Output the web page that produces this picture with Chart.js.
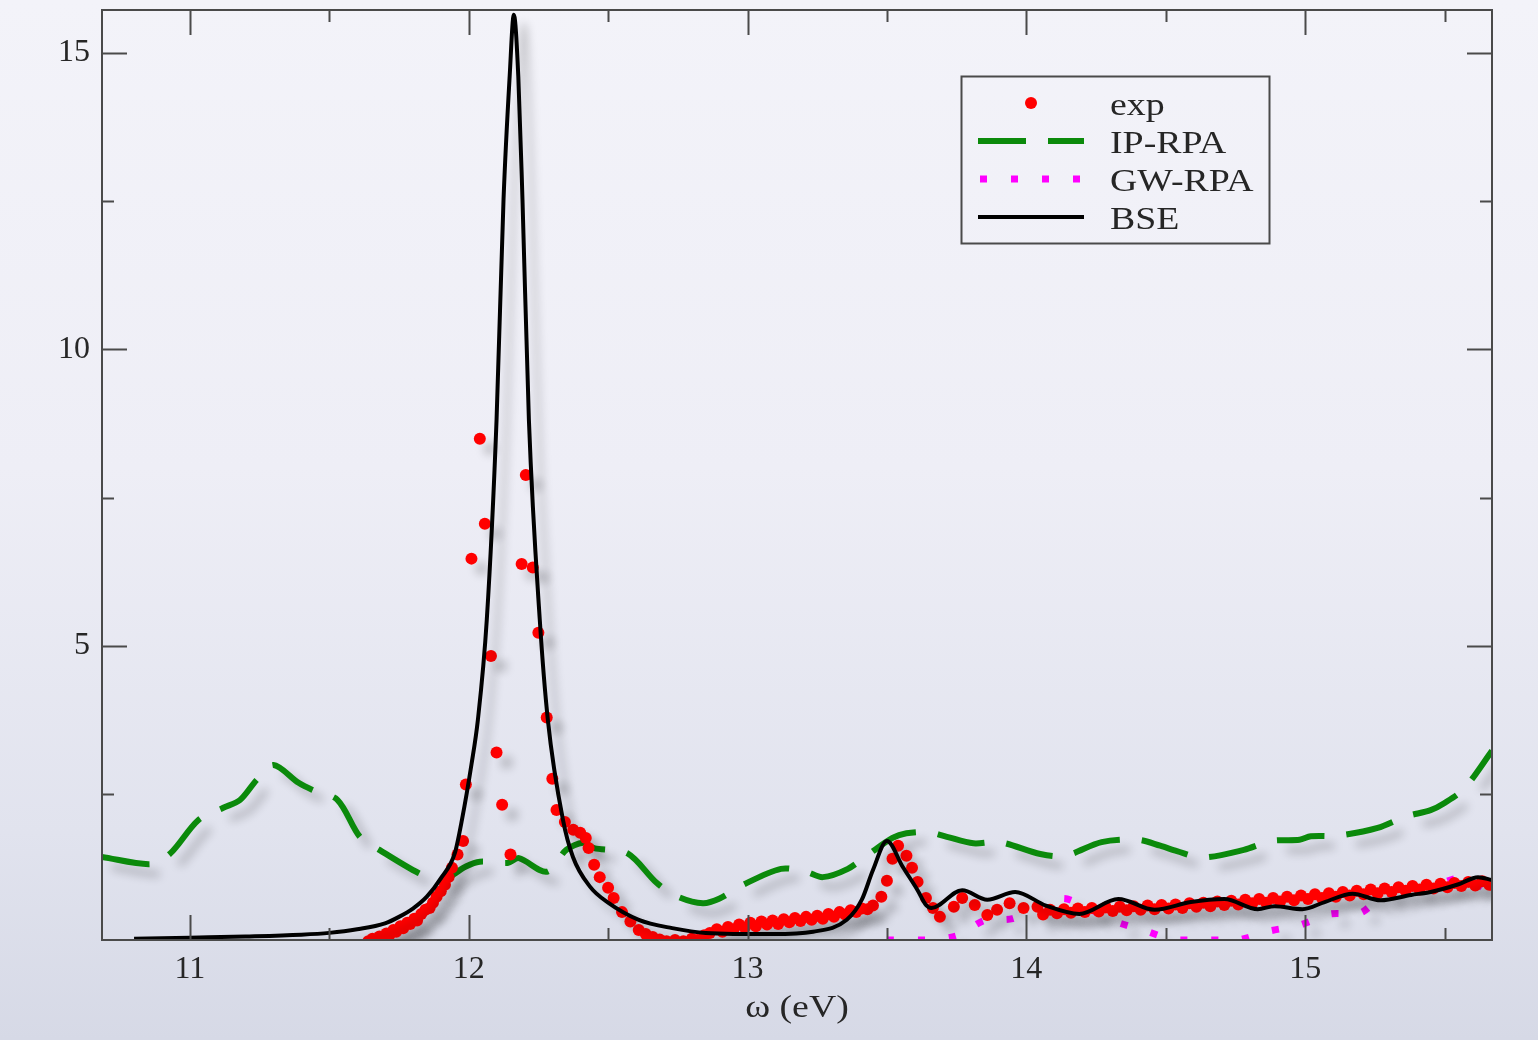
<!DOCTYPE html>
<html>
<head>
<meta charset="utf-8">
<script src="https://cdn.jsdelivr.net/npm/chart.js@4.4.1/dist/chart.umd.min.js"></script>
<style>
  html, body { margin: 0; padding: 0; }
  body {
    width: 1538px;
    height: 1040px;
    overflow: hidden;
    background: linear-gradient(180deg, #f3f3f9 0%, #eeeef6 45%, #e1e3ee 80%, #d6d9e6 100%);
  }
  canvas { display: block; }
</style>
</head>
<body>
<canvas id="spectrum" width="1538" height="1040"></canvas>
<script>
// axis ranges and ticks
const X_MIN = 10.685;
const X_MAX = 15.67;
const Y_MIN = 0.04;
const Y_MAX = 15.72;
const xMajorTicks = [11, 12, 13, 14, 15];
const xMinorTicks = [11.5, 12.5, 13.5, 14.5, 15.5];
const yMajorTicks = [5, 10, 15];
const yMinorTicks = [2.5, 7.5, 12.5];
const xTitle = 'ω (eV)';

// exp (red dots)
const expE = [
  11.640, 11.655, 11.665, 11.680, 11.690, 11.705, 11.715, 11.730, 11.740, 11.755,
  11.765, 11.780, 11.790, 11.805, 11.815, 11.830, 11.845, 11.860, 11.872, 11.885,
  11.900, 11.915, 11.928, 11.940, 11.960, 11.980, 11.990, 12.010, 12.040, 12.058,
  12.080, 12.100, 12.120, 12.150, 12.190, 12.205, 12.230, 12.250, 12.280, 12.300,
  12.315, 12.345, 12.375, 12.400, 12.420, 12.430, 12.450, 12.470, 12.500, 12.520,
  12.550, 12.580, 12.610, 12.635, 12.660, 12.685, 12.710, 12.740, 12.770, 12.800,
  12.820, 12.845, 12.865, 12.890, 12.910, 12.930, 12.950, 12.970, 12.990, 13.010,
  13.030, 13.050, 13.070, 13.090, 13.110, 13.130, 13.150, 13.170, 13.190, 13.210,
  13.230, 13.250, 13.270, 13.290, 13.310, 13.330, 13.350, 13.370, 13.390, 13.410,
  13.430, 13.450, 13.480, 13.500, 13.520, 13.540, 13.570, 13.590, 13.610, 13.640,
  13.665, 13.690, 13.740, 13.770, 13.815, 13.860, 13.895, 13.940, 13.990, 14.040,
  14.060, 14.085, 14.110, 14.135, 14.160, 14.185, 14.210, 14.235, 14.260, 14.285,
  14.310, 14.335, 14.360, 14.385, 14.410, 14.435, 14.460, 14.485, 14.510, 14.535,
  14.560, 14.585, 14.610, 14.635, 14.660, 14.685, 14.710, 14.735, 14.760, 14.785,
  14.810, 14.835, 14.860, 14.885, 14.910, 14.935, 14.960, 14.985, 15.010, 15.035,
  15.060, 15.085, 15.110, 15.135, 15.160, 15.185, 15.210, 15.235, 15.260, 15.285,
  15.310, 15.335, 15.360, 15.385, 15.410, 15.435, 15.460, 15.485, 15.510, 15.535,
  15.560, 15.585, 15.610, 15.635, 15.660,
];
const expEps = [
  0.02, 0.06, 0.03, 0.10, 0.08, 0.15, 0.12, 0.21, 0.18, 0.27,
  0.24, 0.33, 0.31, 0.40, 0.37, 0.48, 0.55, 0.58, 0.67, 0.77,
  0.86, 0.97, 1.10, 1.26, 1.48, 1.71, 2.66, 6.47, 8.49, 7.06,
  4.83, 3.20, 2.32, 1.48, 6.38, 7.88, 6.32, 5.22, 3.79, 2.76,
  2.23, 2.03, 1.90, 1.85, 1.76, 1.59, 1.31, 1.10, 0.92, 0.75,
  0.51, 0.35, 0.21, 0.14, 0.09, 0.05, 0.02, 0.04, 0.02, 0.06,
  0.04, 0.12, 0.16, 0.22, 0.18, 0.26, 0.22, 0.30, 0.25, 0.33,
  0.27, 0.35, 0.30, 0.37, 0.31, 0.39, 0.34, 0.41, 0.36, 0.43,
  0.38, 0.45, 0.40, 0.48, 0.43, 0.51, 0.47, 0.54, 0.51, 0.57,
  0.56, 0.62, 0.77, 1.04, 1.41, 1.63, 1.46, 1.26, 1.02, 0.75,
  0.58, 0.43, 0.60, 0.75, 0.63, 0.46, 0.55, 0.66, 0.58, 0.60,
  0.47, 0.55, 0.49, 0.56, 0.50, 0.57, 0.51, 0.58, 0.52, 0.59,
  0.53, 0.60, 0.54, 0.61, 0.55, 0.62, 0.56, 0.63, 0.57, 0.64,
  0.58, 0.66, 0.60, 0.67, 0.61, 0.69, 0.63, 0.70, 0.64, 0.72,
  0.66, 0.73, 0.67, 0.75, 0.69, 0.77, 0.71, 0.79, 0.73, 0.81,
  0.75, 0.83, 0.77, 0.85, 0.79, 0.87, 0.81, 0.89, 0.83, 0.91,
  0.85, 0.93, 0.87, 0.95, 0.89, 0.97, 0.91, 0.99, 0.93, 1.00,
  0.95, 1.02, 0.96, 1.03, 0.97,
];

// IP-RPA (green dashed)
const ipE = [
  10.685, 10.86, 10.93, 11.03, 11.12, 11.18, 11.24, 11.30, 11.39, 11.44,
  11.53, 11.61, 11.68, 11.82, 11.90, 11.99, 12.04, 12.14, 12.18, 12.28,
  12.35, 12.41, 12.45, 12.57, 12.675, 12.75, 12.84, 12.90, 12.98, 13.12,
  13.21, 13.27, 13.36, 13.43, 13.52, 13.57, 13.65, 13.715, 13.81, 13.905,
  14.05, 14.14, 14.27, 14.40, 14.48, 14.54, 14.63, 14.78, 14.88, 14.98,
  15.02, 15.12, 15.26, 15.36, 15.45, 15.50, 15.57, 15.67,
];
const ipEps = [
  1.44, 1.32, 1.50, 2.06, 2.27, 2.40, 2.74, 2.99, 2.69, 2.57,
  2.40, 1.78, 1.56, 1.17, 1.04, 1.28, 1.36, 1.34, 1.42, 1.19,
  1.56, 1.68, 1.59, 1.50, 1.00, 0.77, 0.66, 0.74, 0.96, 1.24,
  1.19, 1.10, 1.24, 1.47, 1.76, 1.84, 1.86, 1.78, 1.67, 1.69,
  1.49, 1.46, 1.69, 1.73, 1.63, 1.54, 1.43, 1.56, 1.71, 1.73,
  1.79, 1.80, 1.93, 2.12, 2.23, 2.35, 2.59, 3.23,
];

// GW-RPA (magenta dotted)
const gwE = [
  13.50, 13.64, 13.75, 13.85, 13.95, 14.13, 14.22, 14.32, 14.43, 14.53,
  14.65, 14.76, 14.87, 14.98, 15.09, 15.20, 15.28, 15.37, 15.47, 15.57,
  15.66,
];
const gwEps = [
  0.04, 0.04, 0.11, 0.37, 0.40, 0.74, 0.58, 0.35, 0.19, 0.04,
  0.04, 0.04, 0.19, 0.29, 0.48, 0.50, 0.80, 0.89, 0.97, 1.10,
  0.85,
];

// BSE (black solid)
const bseE = [
  10.80, 11.00, 11.20, 11.40, 11.50, 11.60, 11.70, 11.75, 11.80, 11.85,
  11.90, 11.95, 11.976, 12.01, 12.033, 12.065, 12.10, 12.125, 12.147, 12.162,
  12.178, 12.193, 12.216, 12.255, 12.284, 12.338, 12.374, 12.435, 12.50, 12.61,
  12.73, 12.85, 13.09, 13.235, 13.356, 13.41, 13.45, 13.50, 13.557, 13.61,
  13.64, 13.66, 13.77, 13.86, 13.96, 14.07, 14.19, 14.33, 14.46, 14.59,
  14.71, 14.83, 14.89, 14.99, 15.07, 15.17, 15.27, 15.38, 15.45, 15.55,
  15.62, 15.67,
];
const bseEps = [
  0.06, 0.08, 0.10, 0.13, 0.16, 0.22, 0.32, 0.43, 0.57, 0.77,
  1.08, 1.50, 2.07, 3.00, 3.75, 5.44, 8.81, 12.52, 14.60, 15.64,
  14.60, 12.52, 8.81, 5.44, 3.75, 2.07, 1.44, 0.94, 0.67, 0.38,
  0.24, 0.16, 0.14, 0.18, 0.38, 0.72, 1.22, 1.71, 1.27, 0.88,
  0.63, 0.58, 0.88, 0.72, 0.85, 0.62, 0.48, 0.73, 0.55, 0.68,
  0.73, 0.56, 0.61, 0.56, 0.68, 0.82, 0.71, 0.80, 0.85, 0.98,
  1.10, 1.05,
];

const SERIF = "'Liberation Serif', 'DejaVu Serif', serif";
const TEXT_COLOR = '#262626';
const FRAME_COLOR = '#4a4a4a';
// the original lettering is slightly wider than Liberation Serif
const TEXT_STRETCH = 1.22;

function toPoints(xs, ys) {
  return xs.map((x, i) => ({ x, y: ys[i] }));
}

function wideText(ctx, text, x, y, align) {
  ctx.save();
  ctx.translate(x, y);
  ctx.scale(TEXT_STRETCH, 1);
  ctx.textAlign = align;
  ctx.fillText(text, 0, 0);
  ctx.restore();
}

// soft drop shadow under the curves, as in the original figure
const shadowPlugin = {
  id: 'curveShadow',
  beforeDatasetDraw(chart) {
    const ctx = chart.ctx;
    ctx.save();
    ctx.shadowColor = 'rgba(0,0,0,0.22)';
    ctx.shadowBlur = 10;
    ctx.shadowOffsetX = 10;
    ctx.shadowOffsetY = 10;
  },
  afterDatasetDraw(chart) {
    chart.ctx.restore();
  },
};

// frame with inward ticks on all four sides, plus the x title
const framePlugin = {
  id: 'frameTicks',
  afterDatasetsDraw(chart) {
    const { ctx, chartArea: a, scales } = chart;
    const xs = scales.x;
    const ys = scales.y;
    ctx.save();
    ctx.strokeStyle = FRAME_COLOR;
    ctx.lineWidth = 2;
    ctx.strokeRect(a.left, a.top, a.right - a.left, a.bottom - a.top);
    ctx.beginPath();
    const tickX = (v, len) => {
      const px = Math.round(xs.getPixelForValue(v)) + 0.5;
      ctx.moveTo(px, a.bottom);
      ctx.lineTo(px, a.bottom - len);
      ctx.moveTo(px, a.top);
      ctx.lineTo(px, a.top + len);
    };
    const tickY = (v, len) => {
      const py = Math.round(ys.getPixelForValue(v)) + 0.5;
      ctx.moveTo(a.left, py);
      ctx.lineTo(a.left + len, py);
      ctx.moveTo(a.right, py);
      ctx.lineTo(a.right - len, py);
    };
    xMajorTicks.forEach((v) => tickX(v, 25));
    xMinorTicks.forEach((v) => tickX(v, 12));
    yMajorTicks.forEach((v) => tickY(v, 25));
    yMinorTicks.forEach((v) => tickY(v, 12));
    ctx.stroke();

    ctx.fillStyle = TEXT_COLOR;
    ctx.font = `31px ${SERIF}`;
    ctx.textBaseline = 'alphabetic';
    wideText(ctx, xTitle, (a.left + a.right) / 2, 1017, 'center');
    ctx.restore();
  },
};

// boxed legend in the upper right, drawn from the dataset styles
const legendPlugin = {
  id: 'boxLegend',
  afterDraw(chart) {
    const ctx = chart.ctx;
    const box = { x: 961.5, y: 76.5, w: 308, h: 167 };
    const rows = [103, 141, 179, 217];
    const x0 = 978;
    const x1 = 1084;
    ctx.save();
    ctx.strokeStyle = FRAME_COLOR;
    ctx.lineWidth = 2;
    ctx.strokeRect(box.x, box.y, box.w, box.h);
    chart.data.datasets.forEach((ds, i) => {
      const y = rows[i];
      if (ds.showLine === false) {
        ctx.fillStyle = ds.backgroundColor;
        ctx.beginPath();
        ctx.arc((x0 + x1) / 2, y, ds.pointRadius, 0, Math.PI * 2);
        ctx.fill();
      } else {
        ctx.strokeStyle = ds.borderColor;
        ctx.lineWidth = ds.borderWidth;
        ctx.setLineDash(ds.borderDash || []);
        ctx.lineDashOffset = ds.legendDashOffset || 0;
        ctx.beginPath();
        ctx.moveTo(x0, y);
        ctx.lineTo(x1, y);
        ctx.stroke();
        ctx.setLineDash([]);
      }
      ctx.fillStyle = TEXT_COLOR;
      ctx.font = `31px ${SERIF}`;
      ctx.textBaseline = 'alphabetic';
      wideText(ctx, ds.label, 1110, y + 12, 'left');
    });
    ctx.restore();
  },
};

function buildChart() {
  const ctx = document.getElementById('spectrum').getContext('2d');
  return new Chart(ctx, {
    type: 'scatter',
    data: {
      datasets: [
        {
          label: 'exp',
          data: toPoints(expE, expEps),
          showLine: false,
          pointRadius: 6,
          pointHoverRadius: 6,
          pointBorderWidth: 0,
          backgroundColor: '#ff0000',
          borderColor: '#ff0000',
          order: 1,
          clip: 0,
        },
        {
          label: 'IP-RPA',
          data: toPoints(ipE, ipEps),
          showLine: true,
          pointRadius: 0,
          borderColor: '#0b8a0b',
          borderWidth: 6,
          borderDash: [48, 22],
          tension: 0.3,
          order: 3,
          clip: 0,
        },
        {
          label: 'GW-RPA',
          data: toPoints(gwE, gwEps),
          showLine: true,
          pointRadius: 0,
          borderColor: '#ff00ff',
          borderWidth: 7,
          borderDash: [7, 24],
          legendDashOffset: -2,
          tension: 0.25,
          order: 2,
          clip: 0,
        },
        {
          label: 'BSE',
          data: toPoints(bseE, bseEps),
          showLine: true,
          pointRadius: 0,
          borderColor: '#000000',
          borderWidth: 4,
          cubicInterpolationMode: 'monotone',
          order: 0,
          clip: 0,
        },
      ],
    },
    options: {
      responsive: false,
      animation: false,
      events: [],
      layout: { padding: { left: 0, right: 46, top: 10, bottom: 0 } },
      plugins: {
        legend: { display: false },
        tooltip: { enabled: false },
      },
      scales: {
        x: {
          type: 'linear',
          min: X_MIN,
          max: X_MAX,
          grid: { display: false, drawTicks: false },
          border: { display: false },
          afterBuildTicks: (scale) => {
            scale.ticks = xMajorTicks.map((v) => ({ value: v }));
          },
          afterFit: (scale) => {
            scale.height = 100;
            scale.paddingLeft = 0;
            scale.paddingRight = 0;
          },
          ticks: {
            autoSkip: false,
            maxRotation: 0,
            padding: 10,
            color: TEXT_COLOR,
            font: { family: SERIF, size: 32 },
          },
        },
        y: {
          type: 'linear',
          min: Y_MIN,
          max: Y_MAX,
          grid: { display: false, drawTicks: false },
          border: { display: false },
          afterBuildTicks: (scale) => {
            scale.ticks = yMajorTicks.map((v) => ({ value: v }));
          },
          afterFit: (scale) => {
            scale.width = 102;
            scale.paddingTop = 0;
            scale.paddingBottom = 0;
          },
          ticks: {
            autoSkip: false,
            padding: 12,
            color: TEXT_COLOR,
            font: { family: SERIF, size: 32 },
          },
        },
      },
    },
    plugins: [shadowPlugin, framePlugin, legendPlugin],
  });
}

buildChart();
</script>
</body>
</html>
